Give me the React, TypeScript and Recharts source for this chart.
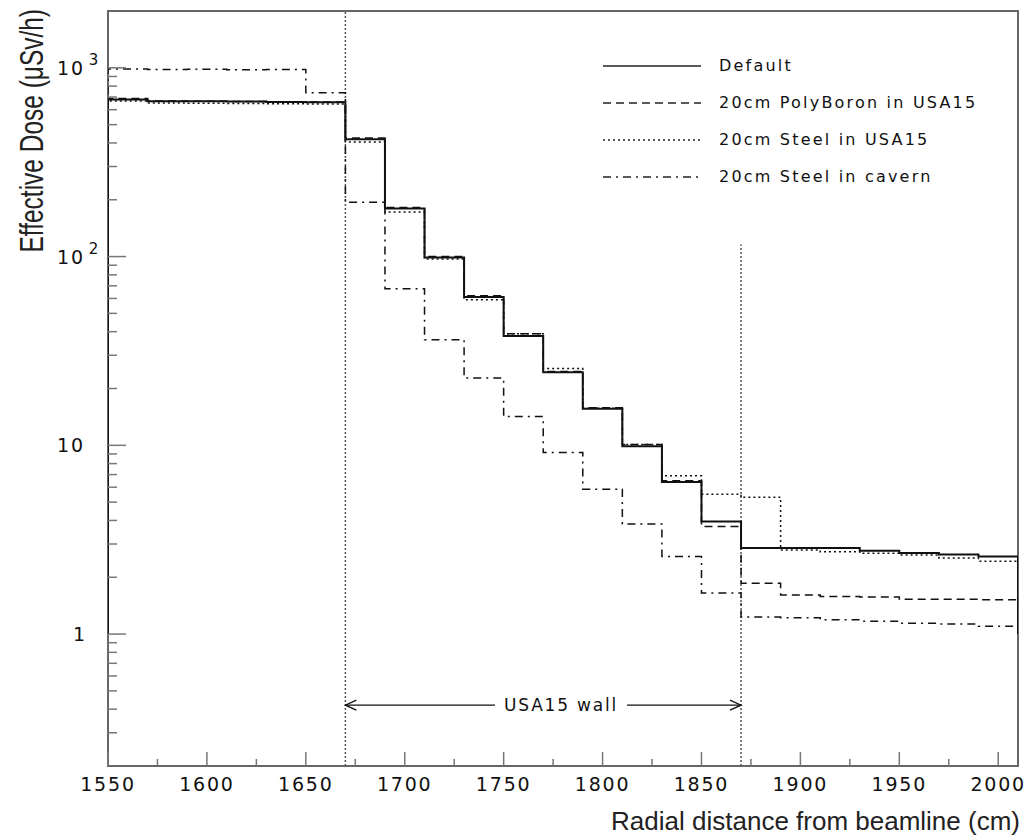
import {
  Legend,
  Line,
  LineChart,
  ReferenceArea,
  ReferenceLine,
  XAxis,
  YAxis,
} from "recharts";

// left edge of each 20 cm bin
const BIN_EDGES = [
  1550, 1570, 1590, 1610, 1630, 1650, 1670, 1690, 1710, 1730, 1750, 1770,
  1790, 1810, 1830, 1850, 1870, 1890, 1910, 1930, 1950, 1970, 1990,
];
const X_END = 2010;
const HIST_FLOOR = 1;

const DEFAULT_DOSE = [
  680, 665, 665, 663, 660, 658, 419, 180, 99, 61, 38, 24.4, 15.6, 9.9, 6.4,
  3.95, 2.86, 2.86, 2.86, 2.76, 2.69, 2.64, 2.58,
];
const POLYBORON_DOSE = [
  688, 668, 666, 664, 662, 660, 425, 182, 100, 62, 39, 24.6, 15.8, 10.1, 6.5,
  3.72, 1.86, 1.61, 1.58, 1.57, 1.53, 1.53, 1.52,
];
const STEEL_USA15_DOSE = [
  668, 652, 650, 648, 646, 644, 405, 172, 97, 59, 39, 25.5, 15.7, 10.1, 6.9,
  5.5, 5.3, 2.79, 2.73, 2.68, 2.62, 2.53, 2.43,
];
const STEEL_CAVERN_DOSE = [
  985, 980, 982, 978, 980, 738, 194, 67.5, 36.2, 22.7, 14.2, 9.15, 5.86, 3.83,
  2.58, 1.65, 1.23, 1.22, 1.19, 1.17, 1.14, 1.13, 1.1,
];

const X_TICKS = [
  1550, 1575, 1600, 1625, 1650, 1675, 1700, 1725, 1750, 1775, 1800, 1825,
  1850, 1875, 1900, 1925, 1950, 1975, 2000,
];
const X_LABELS = [1550, 1600, 1650, 1700, 1750, 1800, 1850, 1900, 1950, 2000];
const Y_TICKS = [
  0.3, 0.4, 0.5, 0.6, 0.7, 0.8, 0.9, 1, 2, 3, 4, 5, 6, 7, 8, 9, 10, 20, 30, 40,
  50, 60, 70, 80, 90, 100, 200, 300, 400, 500, 600, 700, 800, 900, 1000,
];
const Y_LABELS: Record<number, [string, string]> = {
  1: ["1", ""],
  10: ["10", ""],
  100: ["10", "2"],
  1000: ["10", "3"],
};

const WALL_START = 1670;
const WALL_END = 1870;
const WALL_MARK_TOP = 116;
const WALL_ARROW_Y = 0.42;

const SERIES = [
  { key: "base", name: "Default", values: DEFAULT_DOSE, dash: undefined, width: 2 },
  { key: "poly", name: "20cm PolyBoron in USA15", values: POLYBORON_DOSE, dash: "8 5", width: 1.5 },
  { key: "steel", name: "20cm Steel in USA15", values: STEEL_USA15_DOSE, dash: "2 3", width: 1.5 },
  { key: "cavern", name: "20cm Steel in cavern", values: STEEL_CAVERN_DOSE, dash: "8 5 2 5", width: 1.5 },
];

const FONT = '"DejaVu Sans", sans-serif';
const TITLE_FONT = '"Liberation Sans", sans-serif';
const INK = "#111";
const AXIS_GREY = "#777";

function floorRow(x: number) {
  const row: Record<string, number> = { x };
  SERIES.forEach((s) => (row[s.key] = HIST_FLOOR));
  return row;
}

const rows = [
  floorRow(BIN_EDGES[0]),
  ...BIN_EDGES.map((x, i) => {
    const row: Record<string, number> = { x };
    SERIES.forEach((s) => (row[s.key] = s.values[i]));
    return row;
  }),
  (() => {
    const row: Record<string, number> = { x: X_END };
    SERIES.forEach((s) => (row[s.key] = s.values[s.values.length - 1]));
    return row;
  })(),
  floorRow(X_END),
];

function XTick({ x, y, payload }: any) {
  const major = X_LABELS.includes(payload.value);
  return (
    <g>
      <line x1={x} x2={x} y1={y} y2={y - (major ? 14 : 7)} stroke={AXIS_GREY} strokeWidth={1.5} />
      {major ? (
        <text x={x} y={y + 25} textAnchor="middle" fontFamily={FONT} fontSize={19} letterSpacing={1.8} fill={INK}>
          {payload.value}
        </text>
      ) : null}
    </g>
  );
}

function YTick({ x, y, payload }: any) {
  const label = Y_LABELS[payload.value];
  return (
    <g>
      <line x1={x} x2={x + (label ? 18 : 9)} y1={y} y2={y} stroke={AXIS_GREY} strokeWidth={1.5} />
      {label ? (
        <text x={label[0] === "1" ? x - 35 : x - 51} y={y + 7} fontFamily={FONT} fontSize={19} letterSpacing={1.8} fill={INK}>
          {label[0]}
          {label[1] ? (
            <tspan dx={4} dy={-10} fontSize={15}>
              {label[1]}
            </tspan>
          ) : null}
        </text>
      ) : null}
    </g>
  );
}

function WallArrow(props: any) {
  const { x1, x2, y1 } = props;
  const mid = x1 + (x2 - x1) * 0.545;
  const gap = 66;
  return (
    <g stroke={INK} strokeWidth={1.3} fill="none">
      <line x1={x1} x2={mid - gap} y1={y1} y2={y1} />
      <line x1={mid + gap} x2={x2} y1={y1} y2={y1} />
      <polyline points={`${x1 + 11},${y1 - 5} ${x1},${y1} ${x1 + 11},${y1 + 5}`} />
      <polyline points={`${x2 - 11},${y1 - 5} ${x2},${y1} ${x2 - 11},${y1 + 5}`} />
      <text x={mid} y={y1 + 6} textAnchor="middle" stroke="none" fill={INK} fontFamily={FONT} fontSize={17} letterSpacing={1.8}>
        USA15 wall
      </text>
    </g>
  );
}

function LegendBox() {
  return (
    <div style={{ fontFamily: FONT, fontSize: 16, letterSpacing: 2.2, color: INK }}>
      {SERIES.map((s) => (
        <div key={s.key} style={{ display: "flex", alignItems: "center", height: 37 }}>
          <svg width={100} height={10}>
            <line x1={1} x2={99} y1={5} y2={5} stroke="#222" strokeWidth={1.5} strokeDasharray={s.dash} />
          </svg>
          <span style={{ marginLeft: 17, whiteSpace: "nowrap" }}>{s.name}</span>
        </div>
      ))}
    </div>
  );
}

export default function App() {
  return (
    <div style={{ position: "absolute", left: 0, top: 0, width: 1030, height: 839, background: "#fff" }}>
      <LineChart width={1030} height={839} data={rows} margin={{ top: 11, right: 12, bottom: 13, left: 8 }}>
        <ReferenceArea x1={1550} x2={X_END} y1={0.2} y2={2000} fill="none" stroke="#666" strokeWidth={2} />
        <XAxis
          dataKey="x"
          type="number"
          domain={[1550, X_END]}
          ticks={X_TICKS}
          interval={0}
          allowDataOverflow
          height={60}
          tickSize={0}
          tickMargin={0}
          axisLine={false}
          tickLine={false}
          tick={<XTick />}
          label={{
            content: ({ viewBox }: any) => (
              <text x={viewBox.x + viewBox.width + 2} y={viewBox.y + 64} textAnchor="end" fontFamily={TITLE_FONT} fontSize={26} fill="#222">
                Radial distance from beamline (cm)
              </text>
            ),
          }}
        />
        <YAxis
          type="number"
          scale="log"
          domain={[0.2, 2000]}
          ticks={Y_TICKS}
          interval={0}
          allowDataOverflow
          width={100}
          tickSize={0}
          tickMargin={0}
          axisLine={false}
          tickLine={false}
          tick={<YTick />}
          label={{
            content: () => (
              <text x={0} y={0} transform="translate(43 9) rotate(-90) scale(0.72 1)" textAnchor="end" fontFamily={TITLE_FONT} fontSize={34} fill="#222">
                Effective Dose (μSv/h)
              </text>
            ),
          }}
        />
        <ReferenceLine x={WALL_START} stroke="#555" strokeWidth={1.5} strokeDasharray="2 2" />
        <ReferenceLine
          segment={[
            { x: WALL_END, y: 0.2 },
            { x: WALL_END, y: WALL_MARK_TOP },
          ]}
          stroke="#555"
          strokeWidth={1.5}
          strokeDasharray="2 2"
        />
        <ReferenceLine
          segment={[
            { x: WALL_START, y: WALL_ARROW_Y },
            { x: WALL_END, y: WALL_ARROW_Y },
          ]}
          shape={WallArrow}
        />
        {[...SERIES].reverse().map((s) => (
          <Line
            key={s.key}
            dataKey={s.key}
            name={s.name}
            type="stepAfter"
            stroke={INK}
            strokeWidth={s.width}
            strokeDasharray={s.dash}
            dot={false}
            activeDot={false}
            isAnimationActive={false}
          />
        ))}
        <Legend
          layout="horizontal"
          align="center"
          verticalAlign="middle"
          content={<LegendBox />}
          wrapperStyle={{ position: "absolute", top: 47, left: 602, width: 420 }}
        />
      </LineChart>
    </div>
  );
}
